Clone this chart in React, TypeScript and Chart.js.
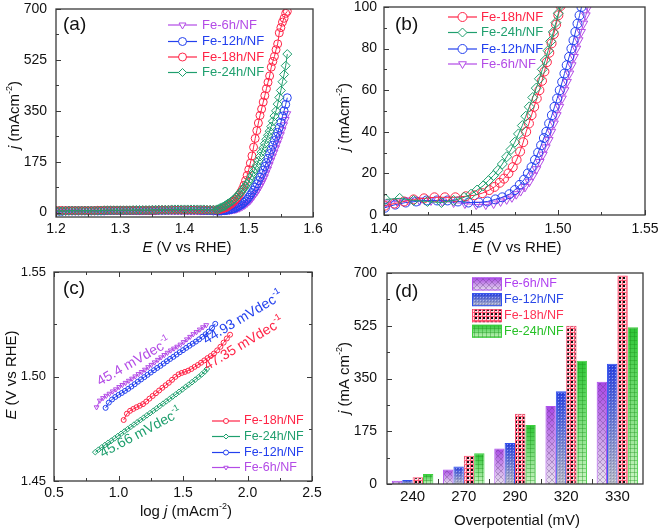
import React, { useEffect, useRef } from 'react';
import { Chart, registerables } from 'chart.js';
Chart.register(...registerables);

const FONT = '"Liberation Sans", Arial, Helvetica, sans-serif';
const FRAME = '#3a3a3a';
const TICK_COLOR = '#111';

// ---------- colours ----------
const C6 = '#b34be6';
const C12 = '#2340ee';
const C18 = '#ff2446';
const C24 = '#1f9f6e';
const D6 = '#b040f0';
const D12 = '#2a48e8';
const D18 = '#ff3355';
const D24 = '#27c127';

// ---------- panel (a): LSV ----------
const A_E = [
  1.200, 1.205, 1.210, 1.215, 1.220, 1.225, 1.230, 1.235, 1.240, 1.245,
  1.250, 1.255, 1.260, 1.265, 1.270, 1.275, 1.280, 1.285, 1.290, 1.295,
  1.300, 1.305, 1.310, 1.315, 1.320, 1.325, 1.330, 1.335, 1.340, 1.345,
  1.350, 1.355, 1.360, 1.365, 1.370, 1.375, 1.380, 1.385, 1.390, 1.395,
  1.400, 1.405, 1.410, 1.415, 1.420, 1.425, 1.430, 1.435, 1.440, 1.445,
  1.450,
  1.4525, 1.455, 1.4575, 1.460, 1.4625, 1.465, 1.4675, 1.470, 1.4725, 1.475,
  1.4775, 1.480, 1.4825, 1.485, 1.4875, 1.490, 1.4925, 1.495, 1.4975, 1.500,
  1.5025, 1.505, 1.5075, 1.510, 1.5125, 1.515, 1.5175, 1.520, 1.5225, 1.525,
  1.5275, 1.530, 1.5325, 1.535, 1.5375, 1.540, 1.5425, 1.545, 1.5475, 1.550,
  1.5525, 1.555, 1.5575, 1.560,
];
const A_J_6H = [
  5, 5, 5, 5, 5, 5, 5, 5, 6, 6, 6, 6, 6, 6, 6, 6, 6, 6, 6, 6,
  6, 6, 6, 6, 6, 6, 6, 7, 7, 7, 7, 7, 7, 7, 7, 7, 7, 7, 7, 7,
  7, 7, 6, 6, 6, 6, 6, 6, 6, 5, 5,
  5, 5, 5, 6, 6, 6, 7, 7, 8, 9, 10, 11, 13, 15, 18, 21, 24, 28, 32, 37,
  42, 49, 56, 64, 71, 80, 90, 100, 111, 123, 137, 150, 165, 180, 194, 208, 223, 238, 252, 268,
  285, 302, 320, 340,
];
const A_J_12H = [
  5, 5, 5, 6, 6, 6, 6, 6, 6, 6, 6, 6, 6, 6, 6, 6, 7, 7, 7, 7,
  7, 7, 7, 7, 7, 7, 7, 7, 7, 7, 7, 7, 8, 8, 8, 8, 8, 8, 8, 8,
  8, 8, 8, 8, 8, 7, 7, 7, 7, 6, 6,
  6, 6, 6, 7, 7, 8, 9, 10, 11, 13, 14, 17, 20, 23, 26, 30, 35, 40, 46, 53,
  61, 69, 78, 88, 99, 110, 122, 134, 146, 159, 172, 187, 203, 217, 232, 248, 262, 276, 292, 310,
  332, 350, 372, 395,
];
const A_J_18H = [
  7, 7, 7, 7, 7, 7, 7, 7, 7, 7, 7, 7, 7, 8, 8, 8, 8, 8, 8, 8,
  8, 8, 8, 8, 8, 8, 8, 8, 8, 8, 8, 8, 9, 9, 9, 9, 9, 9, 9, 9,
  9, 9, 9, 9, 9, 9, 9, 9, 9, 9, 9,
  10, 11, 12, 14, 16, 18, 22, 26, 30, 35, 40, 46, 53, 61, 70, 80, 94, 110, 128, 148,
  170, 195, 225, 255, 282, 308, 334, 356, 380, 402, 426, 448, 470, 500, 520, 537, 560, 580, 618, 636,
  655, 668, 685, 692,
];
const A_J_24H = [
  6, 6, 6, 6, 7, 7, 7, 7, 7, 7, 7, 7, 7, 7, 7, 8, 8, 8, 8, 8,
  8, 8, 8, 8, 9, 9, 9, 9, 9, 9, 10, 10, 10, 10, 10, 10, 11, 11, 11, 11,
  11, 11, 11, 11, 11, 11, 11, 10, 10, 10, 11,
  12, 15, 18, 20, 23, 27, 31, 34, 38, 42, 47, 52, 58, 64, 70, 77, 84, 91, 99, 107,
  117, 128, 140, 151, 163, 178, 193, 208, 222, 237, 252, 266, 280, 296, 314, 332, 350, 373, 396, 420,
  450, 475, 505, 545,
];
const A_X_TICKS = [1.2, 1.3, 1.4, 1.5, 1.6];
const A_X_MINOR = [1.25, 1.35, 1.45, 1.55];
const A_Y_TICKS = [0, 175, 350, 525, 700];
const A_Y_MINOR = [87.5, 262.5, 437.5, 612.5];

// ---------- panel (b): zoomed LSV ----------
const B_E_18H = [1.4005, 1.406, 1.4115, 1.417, 1.423, 1.429, 1.435, 1.441, 1.447, 1.452, 1.4565, 1.4605, 1.4635, 1.4665, 1.469, 1.4715, 1.474, 1.4762, 1.4782, 1.480, 1.4817, 1.4833, 1.4848, 1.4863, 1.4878, 1.4893, 1.4908, 1.4922, 1.4936, 1.495, 1.4963, 1.4976, 1.4989, 1.5002, 1.5015];
const B_J_18H = [4.5, 5.5, 6.5, 7.5, 8, 8.5, 8.5, 8.5, 9, 9.5, 10.5, 12, 13.5, 15.5, 17.5, 20, 23, 26.5, 30.5, 35, 40, 44, 48, 52, 56, 60, 64.5, 69, 73.5, 78, 82.5, 87, 91.5, 96, 100.5];
const B_E_24H = [1.401, 1.409, 1.417, 1.425, 1.433, 1.440, 1.446, 1.450, 1.4535, 1.457, 1.460, 1.463, 1.4655, 1.468, 1.4705, 1.473, 1.4752, 1.4773, 1.4795, 1.4815, 1.4835, 1.4855, 1.4875, 1.4893, 1.491, 1.4927, 1.4943, 1.4958, 1.4973, 1.4988, 1.5002, 1.5015];
const B_J_24H = [7.5, 8, 7, 6.5, 6, 7, 8.5, 10, 12, 14, 16.5, 19, 21.5, 24.5, 28, 31.5, 35, 39, 43, 47.5, 52, 56.5, 61, 65.5, 70, 74.5, 79, 83.5, 88, 92.5, 97, 101];
const B_E_12H = [1.4005, 1.4065, 1.4125, 1.4185, 1.4245, 1.4305, 1.4365, 1.4425, 1.4485, 1.4545, 1.4595, 1.464, 1.468, 1.4721, 1.4752, 1.478, 1.4805, 1.4827, 1.4848, 1.4868, 1.4886, 1.4903, 1.4919, 1.4933, 1.4949, 1.4965, 1.498, 1.4995, 1.501, 1.5024, 1.5037, 1.505, 1.5064, 1.5077, 1.5089, 1.51, 1.5112, 1.5124, 1.5135];
const B_J_12H = [3.5, 5, 6, 6.5, 7, 7, 7, 6.5, 6, 6, 6.5, 7.5, 8.5, 10, 12, 14.5, 17, 20, 23, 26.5, 30, 33.5, 37, 40, 44, 48, 52, 56, 60, 64, 68, 72, 76, 80, 84, 88, 92, 96, 100];
const B_E_6H = [1.401, 1.4075, 1.414, 1.4205, 1.427, 1.4335, 1.44, 1.4465, 1.453, 1.4585, 1.463, 1.467, 1.4705, 1.4735, 1.476, 1.4785, 1.481, 1.4835, 1.4856, 1.4876, 1.4895, 1.4913, 1.493, 1.4947, 1.4962, 1.4977, 1.4993, 1.5008, 1.5023, 1.5038, 1.5052, 1.5066, 1.5079, 1.5092, 1.5106, 1.5119, 1.5133, 1.5146, 1.516, 1.5173];
const B_J_6H = [6, 6.5, 7, 7, 7, 6.5, 6, 5.5, 5, 5, 5.5, 6.5, 7.5, 8.5, 10, 11.5, 13.5, 16, 19, 22, 25.5, 29, 32.5, 36, 40, 44, 48, 52, 56, 60, 64, 68, 72, 76, 80, 84, 88, 92, 96, 100];
const B_X_TICKS = [1.4, 1.45, 1.5, 1.55];
const B_X_MINOR = [1.425, 1.475, 1.525];
const B_Y_TICKS = [0, 20, 40, 60, 80, 100];
const B_Y_MINOR = [10, 30, 50, 70, 90];

// ---------- panel (c): Tafel ----------
const C_X_6H = [0.83, 0.855, 0.88, 0.905, 0.93, 0.955, 0.98, 1.005, 1.03, 1.055, 1.08, 1.105, 1.13, 1.155, 1.18, 1.205, 1.23, 1.255, 1.28, 1.305, 1.33, 1.355, 1.38, 1.405, 1.43, 1.455, 1.48, 1.505, 1.53, 1.555, 1.58, 1.605, 1.63, 1.655, 1.68];
const C_Y_6H = [1.4853, 1.4885, 1.4897, 1.4908, 1.4918, 1.4929, 1.4939, 1.4950, 1.4960, 1.4970, 1.4980, 1.4990, 1.5001, 1.5012, 1.5022, 1.5033, 1.5045, 1.5056, 1.5068, 1.5080, 1.5092, 1.5103, 1.5114, 1.5125, 1.5134, 1.5143, 1.5153, 1.5165, 1.5178, 1.5190, 1.5203, 1.5213, 1.5225, 1.5236, 1.5246];
const C_X_12H = [0.9, 0.925, 0.95, 0.975, 1.0, 1.025, 1.05, 1.075, 1.1, 1.125, 1.15, 1.175, 1.2, 1.225, 1.25, 1.275, 1.3, 1.325, 1.35, 1.375, 1.4, 1.425, 1.45, 1.475, 1.5, 1.525, 1.55, 1.575, 1.6, 1.625, 1.65, 1.675, 1.7, 1.725, 1.75];
const C_Y_12H = [1.4850, 1.4875, 1.4890, 1.4902, 1.4912, 1.4921, 1.4931, 1.4941, 1.4952, 1.4963, 1.4975, 1.4986, 1.4997, 1.5008, 1.5019, 1.5030, 1.5041, 1.5051, 1.5062, 1.5073, 1.5084, 1.5094, 1.5105, 1.5116, 1.5126, 1.5137, 1.5147, 1.5157, 1.5167, 1.5178, 1.5190, 1.5202, 1.5215, 1.5232, 1.5252];
const C_X_18H = [1.04, 1.065, 1.09, 1.115, 1.14, 1.165, 1.19, 1.215, 1.24, 1.265, 1.29, 1.315, 1.34, 1.365, 1.39, 1.415, 1.44, 1.465, 1.49, 1.515, 1.54, 1.565, 1.59, 1.615, 1.64, 1.665, 1.69, 1.715, 1.74, 1.765, 1.79, 1.815, 1.84, 1.865];
const C_Y_18H = [1.4792, 1.4822, 1.4836, 1.4845, 1.4853, 1.4860, 1.4868, 1.4880, 1.4894, 1.4907, 1.4920, 1.4933, 1.4946, 1.4958, 1.4970, 1.4984, 1.4998, 1.5010, 1.5017, 1.5022, 1.5028, 1.5036, 1.5046, 1.5055, 1.5066, 1.5077, 1.5088, 1.5098, 1.5110, 1.5125, 1.5142, 1.5162, 1.5182, 1.5200];
const C_X_24H = [0.82, 0.845, 0.87, 0.895, 0.92, 0.945, 0.97, 0.995, 1.02, 1.045, 1.07, 1.095, 1.12, 1.145, 1.17, 1.195, 1.22, 1.245, 1.27, 1.295, 1.32, 1.345, 1.37, 1.395, 1.42, 1.445, 1.47, 1.495, 1.52, 1.545, 1.57, 1.595, 1.62, 1.645, 1.67, 1.685];
const C_Y_24H = [1.4638, 1.4650, 1.4661, 1.4672, 1.4683, 1.4693, 1.4704, 1.4715, 1.4726, 1.4737, 1.4748, 1.4759, 1.4770, 1.4781, 1.4792, 1.4803, 1.4814, 1.4825, 1.4836, 1.4847, 1.4859, 1.4870, 1.4881, 1.4892, 1.4904, 1.4915, 1.4927, 1.4938, 1.4950, 1.4961, 1.4973, 1.4985, 1.4997, 1.5010, 1.5024, 1.5036];
const C_X_TICKS = [0.5, 1.0, 1.5, 2.0, 2.5];
const C_X_MINOR = [0.75, 1.25, 1.75, 2.25];
const C_Y_TICKS = [1.45, 1.5, 1.55];
const C_Y_MINOR = [1.475, 1.525];
const SLOPE_6H = '45.4 mVdec';
const SLOPE_12H = '44.93 mVdec';
const SLOPE_18H = '47.35 mVdec';
const SLOPE_24H = '45.66 mVdec';

// ---------- panel (d): bars ----------
const D_CATS = ['240', '270', '290', '320', '330'];
const D_6H = [11, 48, 118, 259, 339];
const D_12H = [13, 58, 136, 308, 399];
const D_18H = [22, 94, 233, 525, 692];
const D_24H = [33, 102, 196, 409, 520];
const D_Y_TICKS = [0, 175, 350, 525, 700];
const D_Y_MINOR = [87.5, 262.5, 437.5, 612.5];
const D_X_BOUNDS = [0.5, 1.5, 2.5, 3.5];

// ---------- helpers ----------
type Seg = { t: string; i?: boolean; s?: boolean };
type TextSpec = { segs: Seg[]; x: number; y: number; size: number; color: string; rot?: number; align?: 'left' | 'center' };

function drawRich(ctx: CanvasRenderingContext2D, t: TextSpec) {
  ctx.save();
  ctx.translate(t.x, t.y);
  if (t.rot) ctx.rotate((t.rot * Math.PI) / 180);
  const fontOf = (s: Seg) => `${s.i ? 'italic ' : ''}${s.s ? Math.round(t.size * 0.62) : t.size}px ${FONT}`;
  let total = 0;
  for (const s of t.segs) {
    ctx.font = fontOf(s);
    total += ctx.measureText(s.t).width;
  }
  let x = t.align === 'left' ? 0 : -total / 2;
  ctx.fillStyle = t.color;
  ctx.textBaseline = 'middle';
  ctx.textAlign = 'left';
  for (const s of t.segs) {
    ctx.font = fontOf(s);
    ctx.fillText(s.t, x, s.s ? -t.size * 0.38 : 0);
    x += ctx.measureText(s.t).width;
  }
  ctx.restore();
}

function drawMarker(ctx: CanvasRenderingContext2D, style: string, x: number, y: number, r: number, color: string) {
  ctx.beginPath();
  if (style === 'circle') ctx.arc(x, y, r, 0, Math.PI * 2);
  else if (style === 'tri') {
    ctx.moveTo(x - r * 0.866, y - r * 0.5);
    ctx.lineTo(x + r * 0.866, y - r * 0.5);
    ctx.lineTo(x, y + r);
    ctx.closePath();
  } else {
    ctx.moveTo(x - r, y);
    ctx.lineTo(x, y - r);
    ctx.lineTo(x + r, y);
    ctx.lineTo(x, y + r);
    ctx.closePath();
  }
  ctx.fillStyle = '#fff';
  ctx.fill();
  ctx.strokeStyle = color;
  ctx.lineWidth = 1;
  ctx.stroke();
}

type LegItem = { label: string; color: string; style: string };
function lineLegend(ctx: CanvasRenderingContext2D, items: LegItem[], o: { x0: number; x1: number; tx: number; rows: number[]; size: number; r: number }) {
  items.forEach((it, k) => {
    const y = o.rows[k];
    ctx.strokeStyle = it.color;
    ctx.lineWidth = 1.2;
    ctx.beginPath();
    ctx.moveTo(o.x0, y);
    ctx.lineTo(o.x1, y);
    ctx.stroke();
    drawMarker(ctx, it.style, (o.x0 + o.x1) / 2, y, o.r, it.color);
    drawRich(ctx, { segs: [{ t: it.label }], x: o.tx, y, size: o.size, color: it.color, align: 'left' });
  });
}

const PAT_W = 12;
function barPattern(target: CanvasRenderingContext2D, k: number, top: number, bottom: number, H: number): any {
  const fallback = [D6, D12, D18, D24][k];
  if (!isFinite(top) || !isFinite(bottom) || !isFinite(H) || H <= 0) return fallback;
  if (Math.abs(bottom - top) < 0.5) bottom = top + 1;
  const off = document.createElement('canvas');
  off.width = PAT_W;
  off.height = Math.round(H);
  const g = off.getContext('2d');
  if (!g) return fallback;
  const HH = off.height;
  if (k === 2) {
    g.fillStyle = '#ffdce3';
    g.fillRect(0, 0, PAT_W, HH);
    g.fillStyle = 'rgba(255,70,100,0.85)';
    for (let x = 0; x < PAT_W; x += 4) g.fillRect(x, 0, 1, HH);
    for (let y = 0; y < HH; y += 4) g.fillRect(0, y, PAT_W, 1);
    g.fillStyle = '#111';
    for (let x = 1; x < PAT_W; x += 4) for (let y = 1; y < HH; y += 4) g.fillRect(x, y, 2, 2);
  } else {
    const grad = g.createLinearGradient(0, top, 0, bottom);
    if (k === 0) {
      grad.addColorStop(0, 'rgb(168,70,228)');
      grad.addColorStop(1, 'rgb(232,228,238)');
    } else if (k === 1) {
      grad.addColorStop(0, 'rgb(40,66,226)');
      grad.addColorStop(1, 'rgb(182,184,196)');
    } else {
      grad.addColorStop(0, 'rgb(44,198,52)');
      grad.addColorStop(1, 'rgb(204,244,196)');
    }
    g.fillStyle = grad;
    g.fillRect(0, 0, PAT_W, HH);
    if (k === 0) {
      g.strokeStyle = 'rgba(95,55,130,0.35)';
      g.lineWidth = 1;
      for (let c = -PAT_W; c < HH + PAT_W; c += 6) {
        g.beginPath(); g.moveTo(0, c); g.lineTo(PAT_W, c + PAT_W); g.stroke();
        g.beginPath(); g.moveTo(0, c + PAT_W); g.lineTo(PAT_W, c); g.stroke();
      }
    } else if (k === 1) {
      g.fillStyle = 'rgba(255,255,255,0.45)';
      for (let x = 0; x < PAT_W; x += 3) for (let y = 0; y < HH; y += 3) g.fillRect(x, y, 1, 1);
      g.fillStyle = 'rgba(0,0,40,0.18)';
      for (let x = 1; x < PAT_W; x += 3) for (let y = 1; y < HH; y += 3) g.fillRect(x, y, 1, 1);
    } else {
      g.fillStyle = 'rgba(30,150,30,0.4)';
      for (let x = 0; x < PAT_W; x += 4) g.fillRect(x, 0, 1, HH);
      for (let y = 0; y < HH; y += 4) g.fillRect(0, y, PAT_W, 1);
    }
  }
  return target.createPattern(off, 'repeat') || fallback;
}

type DecoSpec = {
  xMajor: number[]; xMinor: number[]; yMajor: number[]; yMinor: number[]; fourSides?: boolean;
  texts: TextSpec[]; legend?: (ctx: CanvasRenderingContext2D, chart: any) => void;
};
function makeDeco(spec: DecoSpec) {
  return {
    id: 'deco',
    afterDatasetsDraw(chart: any) {
      const ctx: CanvasRenderingContext2D = chart.ctx;
      const a = chart.chartArea;
      const xs = chart.scales.x;
      const ys = chart.scales.y;
      ctx.save();
      ctx.strokeStyle = FRAME;
      ctx.lineWidth = 1;
      const seg = (x1: number, y1: number, x2: number, y2: number) => {
        ctx.beginPath(); ctx.moveTo(x1, y1); ctx.lineTo(x2, y2); ctx.stroke();
      };
      const xt = (v: number, len: number) => {
        const px = Math.round(xs.getPixelForValue(v)) + 0.5;
        seg(px, a.bottom, px, a.bottom - len);
        if (spec.fourSides) seg(px, a.top, px, a.top + len);
      };
      const yt = (v: number, len: number) => {
        const py = Math.round(ys.getPixelForValue(v)) + 0.5;
        seg(a.left, py, a.left + len, py);
        if (spec.fourSides) seg(a.right, py, a.right - len, py);
      };
      spec.xMajor.forEach((v) => xt(v, 5));
      spec.xMinor.forEach((v) => xt(v, 3));
      spec.yMajor.forEach((v) => yt(v, 5));
      spec.yMinor.forEach((v) => yt(v, 3));
      ctx.lineWidth = 1.3;
      ctx.strokeRect(a.left, a.top, a.right - a.left, a.bottom - a.top);
      spec.texts.forEach((t) => drawRich(ctx, t));
      if (spec.legend) spec.legend(ctx, chart);
      ctx.restore();
    },
  };
}

type Box = { W: number; H: number; l: number; r: number; t: number; b: number };

function fitter(p: Box, isX: boolean) {
  return (s: any) => {
    if (isX) s.height = p.H - p.b;
    else s.width = p.l;
    s.paddingLeft = 0; s.paddingRight = 0; s.paddingTop = 0; s.paddingBottom = 0;
  };
}

function linAxis(p: Box, isX: boolean, min: number, max: number, ticks: number[], fmt: (v: number) => string, pad: number, size = 14) {
  return {
    type: 'linear', min, max,
    grid: { display: false, drawTicks: false },
    border: { display: false },
    ticks: { font: { family: FONT, size }, color: TICK_COLOR, padding: pad, maxRotation: 0, autoSkip: false, callback: (v: any) => fmt(Number(v)) },
    afterBuildTicks: (s: any) => { s.ticks = ticks.map((v) => ({ value: v })); },
    afterFit: fitter(p, isX),
  };
}

function baseOpts(p: Box, scales: any) {
  return {
    responsive: false, animation: false, events: [], devicePixelRatio: 1,
    layout: { padding: { left: 0, top: p.t, right: p.W - p.r, bottom: 0 } },
    plugins: { legend: { display: false }, tooltip: { enabled: false } },
    scales,
  };
}

function lineSet(label: string, xs: number[], ys: number[], color: string, style: string, rot: number, r: number, order: number) {
  return {
    label,
    data: xs.map((x, i) => ({ x, y: ys[i] })),
    showLine: true, tension: 0,
    borderColor: color, borderWidth: 1, backgroundColor: color,
    pointStyle: style, pointRotation: rot, pointRadius: r,
    pointBorderWidth: 1, pointBorderColor: color, pointBackgroundColor: 'rgba(255,255,255,0)',
    order,
  };
}

const jTitle = (sp: string): Seg[] => [{ t: 'j', i: true }, { t: ` (mA${sp}cm` }, { t: '-2', s: true }, { t: ')' }];
const eTitle: Seg[] = [{ t: 'E', i: true }, { t: ' (V vs RHE)' }];

// ---------- configs ----------
function makeA() {
  const p: Box = { W: 330, H: 264, l: 56, r: 313, t: 9, b: 217 };
  return {
    type: 'scatter',
    data: {
      datasets: [
        lineSet('Fe-6h/NF', A_E, A_J_6H, C6, 'triangle', 180, 4, 3),
        lineSet('Fe-12h/NF', A_E, A_J_12H, C12, 'circle', 0, 4, 2),
        lineSet('Fe-18h/NF', A_E, A_J_18H, C18, 'circle', 0, 4, 1),
        lineSet('Fe-24h/NF', A_E, A_J_24H, C24, 'rectRot', 0, 4.5, 0),
      ],
    },
    options: baseOpts(p, {
      x: linAxis(p, true, 1.2, 1.6, A_X_TICKS, (v) => v.toFixed(1), 4),
      y: linAxis(p, false, -15, 700, A_Y_TICKS, (v) => String(v), 9),
    }),
    plugins: [makeDeco({
      xMajor: A_X_TICKS, xMinor: A_X_MINOR, yMajor: A_Y_TICKS, yMinor: A_Y_MINOR,
      texts: [
        { segs: [{ t: '(a)' }], x: 63, y: 25, size: 19, color: '#111', align: 'left' },
        { segs: eTitle, x: 187, y: 248, size: 15, color: '#111' },
        { segs: jTitle(''), x: 15, y: 115, size: 15, color: '#111', rot: -90 },
      ],
      legend: (ctx) => lineLegend(ctx, [
        { label: 'Fe-6h/NF', color: C6, style: 'tri' },
        { label: 'Fe-12h/NF', color: C12, style: 'circle' },
        { label: 'Fe-18h/NF', color: C18, style: 'circle' },
        { label: 'Fe-24h/NF', color: C24, style: 'dia' },
      ], { x0: 168, x1: 197, tx: 202, rows: [25, 41.5, 57, 72.5], size: 13, r: 4 }),
    })],
  };
}

function makeB() {
  const p: Box = { W: 331, H: 264, l: 54, r: 315, t: 7, b: 215 };
  return {
    type: 'scatter',
    data: {
      datasets: [
        lineSet('Fe-18h/NF', B_E_18H, B_J_18H, C18, 'circle', 0, 4.5, 1),
        lineSet('Fe-24h/NF', B_E_24H, B_J_24H, C24, 'rectRot', 0, 5, 0),
        lineSet('Fe-12h/NF', B_E_12H, B_J_12H, C12, 'circle', 0, 4.5, 2),
        lineSet('Fe-6h/NF', B_E_6H, B_J_6H, C6, 'triangle', 180, 5, 3),
      ],
    },
    options: baseOpts(p, {
      x: linAxis(p, true, 1.4, 1.55, B_X_TICKS, (v) => v.toFixed(2), 6),
      y: linAxis(p, false, 0, 100, B_Y_TICKS, (v) => String(v), 7),
    }),
    plugins: [makeDeco({
      xMajor: B_X_TICKS, xMinor: B_X_MINOR, yMajor: B_Y_TICKS, yMinor: B_Y_MINOR,
      texts: [
        { segs: [{ t: '(b)' }], x: 65, y: 25, size: 19, color: '#111', align: 'left' },
        { segs: eTitle, x: 187, y: 248, size: 15, color: '#111' },
        { segs: jTitle(''), x: 15, y: 117, size: 15, color: '#111', rot: -90 },
      ],
      legend: (ctx) => lineLegend(ctx, [
        { label: 'Fe-18h/NF', color: C18, style: 'circle' },
        { label: 'Fe-24h/NF', color: C24, style: 'dia' },
        { label: 'Fe-12h/NF', color: C12, style: 'circle' },
        { label: 'Fe-6h/NF', color: C6, style: 'tri' },
      ], { x0: 118, x1: 147, tx: 151, rows: [17, 32.5, 49, 64], size: 13, r: 4.5 }),
    })],
  };
}

function makeC() {
  const p: Box = { W: 330, H: 264, l: 54, r: 312, t: 8, b: 217 };
  const sup = (s: string): Seg[] => [{ t: s }, { t: '-1', s: true }];
  return {
    type: 'scatter',
    data: {
      datasets: [
        lineSet('Fe-18h/NF', C_X_18H, C_Y_18H, C18, 'circle', 0, 2.5, 1),
        lineSet('Fe-24h/NF', C_X_24H, C_Y_24H, C24, 'rectRot', 0, 2.8, 0),
        lineSet('Fe-12h/NF', C_X_12H, C_Y_12H, C12, 'circle', 0, 2.5, 2),
        lineSet('Fe-6h/NF', C_X_6H, C_Y_6H, C6, 'triangle', 180, 2.8, 3),
      ],
    },
    options: baseOpts(p, {
      x: linAxis(p, true, 0.5, 2.5, C_X_TICKS, (v) => v.toFixed(1), 4),
      y: linAxis(p, false, 1.45, 1.55, C_Y_TICKS, (v) => v.toFixed(2), 8, 13),
    }),
    plugins: [makeDeco({
      xMajor: C_X_TICKS, xMinor: C_X_MINOR, yMajor: C_Y_TICKS, yMinor: C_Y_MINOR, fourSides: true,
      texts: [
        { segs: [{ t: '(c)' }], x: 63, y: 25, size: 19, color: '#111', align: 'left' },
        { segs: [{ t: 'log ' }, { t: 'j', i: true }, { t: ' (mAcm' }, { t: '-2', s: true }, { t: ')' }], x: 186, y: 248, size: 15, color: '#111' },
        { segs: eTitle, x: 12, y: 111, size: 15, color: '#111', rot: -90 },
        { segs: sup(SLOPE_6H), x: 134, y: 98, size: 14, color: C6, rot: -30 },
        { segs: sup(SLOPE_12H), x: 243, y: 54, size: 14, color: C12, rot: -31 },
        { segs: sup(SLOPE_18H), x: 244, y: 80, size: 14, color: C18, rot: -31 },
        { segs: sup(SLOPE_24H), x: 141, y: 169, size: 14, color: C24, rot: -28 },
      ],
      legend: (ctx) => lineLegend(ctx, [
        { label: 'Fe-18h/NF', color: C18, style: 'circle' },
        { label: 'Fe-24h/NF', color: C24, style: 'dia' },
        { label: 'Fe-12h/NF', color: C12, style: 'circle' },
        { label: 'Fe-6h/NF', color: C6, style: 'tri' },
      ], { x0: 212, x1: 240, tx: 244, rows: [157, 172.5, 188.5, 203.5], size: 12.5, r: 2.5 }),
    })],
  };
}

function makeD() {
  const p: Box = { W: 331, H: 264, l: 57, r: 313, t: 9, b: 220 };
  const series = [
    { label: 'Fe-6h/NF', data: D_6H, color: D6, border: '#b050f0' },
    { label: 'Fe-12h/NF', data: D_12H, color: D12, border: '#3050ee' },
    { label: 'Fe-18h/NF', data: D_18H, color: D18, border: '#ff4d70' },
    { label: 'Fe-24h/NF', data: D_24H, color: D24, border: '#3ccf3c' },
  ];
  return {
    type: 'bar',
    data: {
      labels: D_CATS,
      datasets: series.map((s, k) => ({
        label: s.label,
        data: s.data,
        borderColor: s.border,
        borderWidth: 1,
        borderSkipped: 'bottom',
        categoryPercentage: 0.81,
        barPercentage: 1,
        backgroundColor: (c: any) => {
          const chart = c.chart;
          if (!c || c.type !== 'data' || !chart || !chart.scales || !chart.scales.y) return s.color;
          const ys = chart.scales.y;
          return barPattern(chart.ctx, k, ys.getPixelForValue(c.raw), ys.getPixelForValue(0), chart.height);
        },
      })),
    },
    options: baseOpts(p, {
      x: {
        type: 'category', offset: true,
        grid: { display: false, drawTicks: false, offset: true },
        border: { display: false },
        ticks: { font: { family: FONT, size: 15 }, color: TICK_COLOR, padding: 4, maxRotation: 0, autoSkip: false },
        afterFit: fitter(p, true),
      },
      y: linAxis(p, false, 0, 700, D_Y_TICKS, (v) => String(v), 10),
    }),
    plugins: [makeDeco({
      xMajor: D_X_BOUNDS, xMinor: [], yMajor: D_Y_TICKS, yMinor: D_Y_MINOR,
      texts: [
        { segs: [{ t: '(d)' }], x: 65, y: 28, size: 19, color: '#111', align: 'left' },
        { segs: [{ t: 'Overpotential (mV)' }], x: 187, y: 257, size: 15, color: '#111' },
        { segs: jTitle(' '), x: 15, y: 114, size: 15, color: '#111', rot: -90 },
      ],
      legend: (ctx, chart) => {
        const rows = [20, 35.7, 51.7, 67.3];
        series.forEach((s, k) => {
          const y0 = rows[k] - 6.5;
          ctx.fillStyle = barPattern(ctx, k, y0, y0 + 13, chart.height);
          ctx.fillRect(142, y0, 30, 13);
          ctx.strokeStyle = s.border;
          ctx.lineWidth = 1;
          ctx.strokeRect(142.5, y0 + 0.5, 29, 12);
          drawRich(ctx, { segs: [{ t: s.label }], x: 174, y: rows[k], size: 12.5, color: s.color, align: 'left' });
        });
      },
    })],
  };
}

function ChartBox(props: { left: number; top: number; w: number; h: number; make: () => any }) {
  const ref = useRef<HTMLCanvasElement>(null);
  useEffect(() => {
    if (!ref.current) return;
    let chart: any = null;
    try {
      chart = new Chart(ref.current, props.make());
    } catch (e) {
      console.error(e);
    }
    return () => { if (chart) chart.destroy(); };
  }, []);
  return (
    <canvas
      ref={ref}
      width={props.w}
      height={props.h}
      style={{ position: 'absolute', left: props.left, top: props.top, width: props.w, height: props.h }}
    />
  );
}

export default function App() {
  return (
    <div style={{ position: 'absolute', left: 0, top: 0, width: 661, height: 528, background: '#fff', overflow: 'hidden' }}>
      <ChartBox left={0} top={0} w={330} h={264} make={makeA} />
      <ChartBox left={330} top={0} w={331} h={264} make={makeB} />
      <ChartBox left={0} top={264} w={330} h={264} make={makeC} />
      <ChartBox left={330} top={264} w={331} h={264} make={makeD} />
    </div>
  );
}
